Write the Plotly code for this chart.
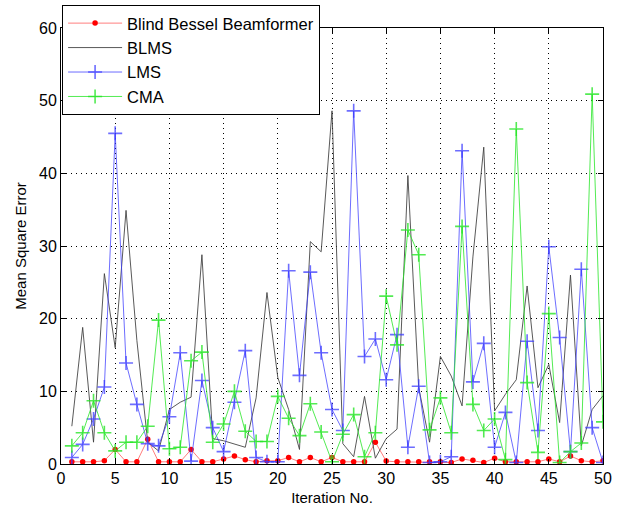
import plotly.graph_objects as go

iterations = list(range(1, 51))

bessel = [0.3, 0.3, 0.3, 0.45, 2.0, 0.3, 0.3, 3.4, 0.3, 0.3,
          0.3, 2.0, 0.3, 0.3, 0.7, 1.1, 0.6, 0.3, 0.45, 0.45,
          0.9, 0.3, 0.9, 0.3, 0.9, 0.3, 0.3, 0.3, 3.0, 0.4,
          0.3, 0.3, 0.3, 0.3, 0.3, 0.2, 0.7, 0.5, 0.2, 0.8,
          0.3, 0.3, 0.3, 0.3, 0.7, 0.3, 1.1, 0.45, 0.3, 0.45]

blms = [5.2, 18.8, 3.0, 26.2, 16.0, 34.9, 17.0, 3.0, 1.8, 7.5,
        8.5, 9.2, 28.8, 3.5, 3.2, 2.7, 2.3, 9.1, 23.6, 11.9,
        7.5, 2.0, 30.6, 29.2, 48.6, 2.8, 1.0, 9.3, 0.8, 3.5,
        4.8, 39.7, 10.5, 3.0, 14.8, 12.1, 8.0, 28.5, 43.6, 7.3,
        9.6, 11.6, 24.5, 10.5, 13.7, 5.7, 26.0, 2.5, 7.5, 9.4]

lms = [0.9, 2.7, 6.2, 10.6, 45.5, 13.9, 8.2, 2.8, 2.5, 6.5,
       15.3, 0.4, 11.5, 5.0, 1.7, 8.5, 15.6, 0.9, 0.3, 0.3,
       26.6, 12.2, 26.4, 15.3, 7.5, 4.6, 48.6, 14.8, 17.2, 11.6,
       17.8, 2.3, 10.7, 0.2, 0.3, 1.0, 43.1, 11.3, 16.6, 2.3,
       7.1, 0.2, 16.9, 4.6, 29.9, 17.4, 1.7, 26.8, 5.0, 0.2]

cma = [2.5, 4.3, 8.7, 4.3, 1.8, 3.0, 3.0, 5.2, 19.8, 2.1,
       2.3, 14.2, 15.4, 3.0, 5.5, 10.0, 4.5, 3.1, 3.1, 9.3,
       6.3, 3.9, 8.3, 4.4, 0.3, 4.1, 6.8, 1.0, 4.3, 23.1,
       16.4, 32.2, 28.8, 4.7, 9.1, 4.3, 32.7, 8.2, 4.6, 6.2,
       0.6, 46.1, 11.2, 1.6, 20.7, 0.2, 1.7, 2.9, 50.9, 5.8]

FONT = "Liberation Sans, Arial, sans-serif"

fig = go.Figure()
fig.add_trace(go.Scatter(
    x=iterations, y=bessel, name="Blind Bessel Beamformer", mode="lines+markers",
    line=dict(color="rgba(255,70,70,0.7)", width=1),
    marker=dict(symbol="circle", size=5.5, color="#ff0000")))
fig.add_trace(go.Scatter(
    x=iterations, y=blms, name="BLMS", mode="lines",
    line=dict(color="rgba(60,60,60,0.85)", width=1)))
fig.add_trace(go.Scatter(
    x=iterations, y=lms, name="LMS", mode="lines+markers",
    line=dict(color="rgba(60,60,255,0.75)", width=1),
    marker=dict(symbol="cross-thin-open", size=10, line=dict(color="#0000ff", width=1.6))))
fig.add_trace(go.Scatter(
    x=iterations, y=cma, name="CMA", mode="lines+markers",
    line=dict(color="rgba(40,230,40,0.8)", width=1),
    marker=dict(symbol="cross-thin-open", size=10, line=dict(color="#00ee00", width=1.6))))

axis_common = dict(
    showline=True, linecolor="black", linewidth=1, mirror="ticks",
    ticks="inside", ticklen=5, tickcolor="black",
    showgrid=True, gridcolor="black", gridwidth=1, griddash="1px,4px",
    zeroline=False, tickfont=dict(family=FONT, size=16, color="black"),
    ticklabeloverflow="allow",
)

fig.update_xaxes(range=[0, 50], dtick=5, tick0=0,
                 title=dict(text="Iteration No.", font=dict(family=FONT, size=15, color="black"), standoff=6),
                 **axis_common)
fig.update_yaxes(range=[0, 60], dtick=10, tick0=0,
                 title=dict(text="Mean Square Error", font=dict(family=FONT, size=15, color="black"), standoff=8),
                 **axis_common)

fig.update_layout(
    width=617, height=509,
    margin=dict(l=61, r=5, t=28, b=44),
    paper_bgcolor="white", plot_bgcolor="white",
    font=dict(family=FONT, color="black"),
    showlegend=True,
    legend=dict(x=0.002, y=1.053, xanchor="left", yanchor="top",
                bgcolor="white", bordercolor="black", borderwidth=1,
                font=dict(family=FONT, size=16.5, color="black"),
                itemwidth=54, tracegroupgap=0),
)

fig.write_html("out.html")
